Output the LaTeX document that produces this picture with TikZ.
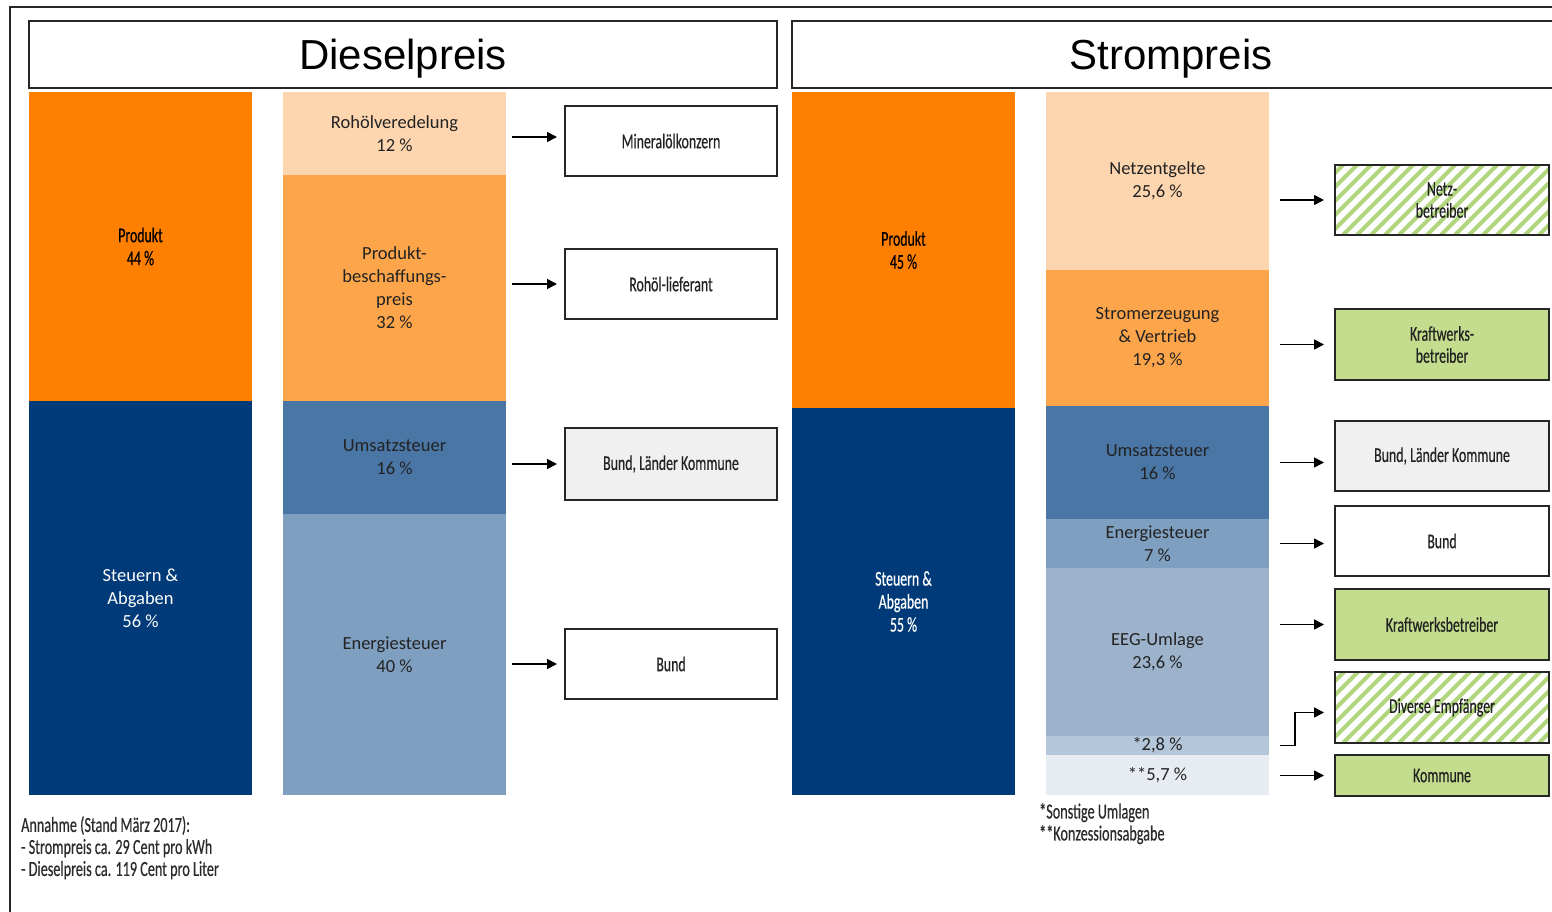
\documentclass[tikz,border=0pt]{standalone}
\usepackage{fontspec}
\setmainfont{Carlito}
\newfontfamily\titlefont{Liberation Sans}
\newfontfamily\narrowfont[FakeStretch=0.66,FakeBold=0.4]{Carlito}
\usetikzlibrary{arrows.meta}

\definecolor{prodorange}{HTML}{FF8000}
\definecolor{taxnavy}{HTML}{003A78}
\definecolor{peach}{HTML}{FDD6B0}
\definecolor{lightorange}{HTML}{FDA54B}
\definecolor{steelblue}{HTML}{4A76A6}
\definecolor{energyblue}{HTML}{7F9FC0}
\definecolor{eegblue}{HTML}{9DB3CC}
\definecolor{otherblue}{HTML}{B4C6DA}
\definecolor{concblue}{HTML}{E7ECF3}
\definecolor{boxgreen}{HTML}{C4DC8E}
\definecolor{hatchgreen}{HTML}{B2D67E}
\definecolor{boxgray}{HTML}{F0F0F0}
\definecolor{boxline}{HTML}{262626}
\definecolor{labeltext}{HTML}{222222}
\definecolor{notetext}{HTML}{2B2B2B}

\begin{document}
\begin{tikzpicture}[x=1pt,y=-1pt,
  bar/.style={inner sep=0pt, outer sep=0pt, align=center, text=labeltext,
    font=\fontsize{18.5}{23}\selectfont, minimum width=223pt},
  nbar/.style={bar, font=\narrowfont\fontsize{21}{23}\selectfont},
  target/.style={draw=boxline, line width=1.4pt, inner sep=0pt, outer sep=0pt,
    align=center, text=labeltext, font=\narrowfont\fontsize{21}{22}\selectfont},
  dtarget/.style={target, minimum width=212pt},
  starget/.style={target, minimum width=214pt},
  hatched/.style={fill=white, path picture={
      \foreach \k in {-90,-76,...,230}
        \draw[hatchgreen, line width=4pt]
          ([xshift=\k pt]path picture bounding box.south west) -- ++(100,-100);}},
  header/.style={draw=boxline, line width=1.4pt, inner sep=0pt, outer sep=0pt},
  title/.style={font=\titlefont\fontsize{42}{46}\selectfont, text=black},
  arr/.style={line width=1.5pt, draw=black, -{Triangle[length=10pt,width=10pt]}},
  note/.style={inner sep=0pt, align=left, text=notetext,
    font=\narrowfont\fontsize{21.5}{22}\selectfont}]

\clip (0,0) rectangle (1552,912);
\fill[white] (0,0) rectangle (1552,912);

% outer frame (runs past the right and bottom page edges)
\draw[draw=boxline, line width=1.6pt] (10,7) rectangle (1600,960);

% headers
\node[header, minimum width=748pt, minimum height=67pt] (hdiesel) at (403,54.5) {};
\node[title] at ([yshift=-4pt]hdiesel.center) {Dieselpreis};
\node[header, minimum width=790pt, minimum height=67pt] (hstrom) at (1187,54.5) {};
\node[title] at ([xshift=-16pt,yshift=-4pt]hstrom.center) {Strompreis};

% ---------------- Dieselpreis ----------------
\node[nbar, fill=prodorange, text=black, minimum height=309pt] (dprod) at (140.5,246.5)
  {Produkt\\44 \%};
\node[bar, fill=taxnavy, text=white, minimum height=394pt] (dsteu) at (140.5,598)
  {Steuern \&\\Abgaben\\56 \%};

\node[bar, fill=peach, minimum height=83pt] (droh) at (394.5,133.5)
  {Rohölveredelung\\12 \%};
\node[bar, fill=lightorange, minimum height=226pt] (dbesch) at (394.5,288)
  {Produkt-\\beschaffungs-\\preis\\32 \%};
\node[bar, fill=steelblue, minimum height=113pt] (dust) at (394.5,457.5)
  {Umsatzsteuer\\16 \%};
\node[bar, fill=energyblue, minimum height=281pt] (dene) at (394.5,654.5)
  {Energiesteuer\\40 \%};

\node[dtarget, fill=white, minimum height=70pt] (dmin) at (671,141) {Mineralölkonzern};
\node[dtarget, fill=white, minimum height=70pt] (dlief) at (671,284) {Rohöl-lieferant};
\node[dtarget, fill=boxgray, minimum height=72pt] (dbund1) at (671,464) {Bund, Länder Kommune};
\node[dtarget, fill=white, minimum height=70pt] (dbund2) at (671,664) {Bund};

\draw[arr] ([xshift=6pt,yshift=4pt]droh.east |- dmin.west) -- ([xshift=-8pt,yshift=4pt]dmin.west);
\draw[arr] ([xshift=6pt]dbesch.east |- dlief.west) -- ([xshift=-8pt]dlief.west);
\draw[arr] ([xshift=6pt]dust.east |- dbund1.west) -- ([xshift=-8pt]dbund1.west);
\draw[arr] ([xshift=6pt]dene.east |- dbund2.west) -- ([xshift=-8pt]dbund2.west);

% ---------------- Strompreis ----------------
\node[nbar, fill=prodorange, text=black, minimum height=316pt] (sprod) at (903.5,250)
  {Produkt\\45 \%};
\node[nbar, fill=taxnavy, text=white, minimum height=387pt] (ssteu) at (903.5,601.5)
  {Steuern \&\\Abgaben\\55 \%};

\node[bar, fill=peach, minimum height=178pt] (snetz) at (1157.5,181)
  {Netzentgelte\\25,6 \%};
\node[bar, fill=lightorange, minimum height=136pt] (serz) at (1157.5,338)
  {Stromerzeugung\\\& Vertrieb\\19,3 \%};
\node[bar, fill=steelblue, minimum height=113pt] (sust) at (1157.5,462.5)
  {Umsatzsteuer\\16 \%};
\node[bar, fill=energyblue, minimum height=49pt] (sene) at (1157.5,543.5)
  {Energiesteuer\\7 \%};
\node[bar, fill=eegblue, minimum height=168pt] (seeg) at (1157.5,652)
  {EEG-Umlage\\23,6 \%};
\node[bar, fill=otherblue, minimum height=19pt] (ssonst) at (1157.5,745.5)
  {*2,8 \%};
\node[bar, fill=concblue, minimum height=40pt] (skonz) at (1157.5,775)
  {**5,7 \%};

\node[starget, hatched, minimum height=70pt] (snetzb) at (1442,200) {Netz-\\betreiber};
\node[starget, fill=boxgreen, minimum height=71pt] (skraft1) at (1442,344.5) {Kraftwerks-\\betreiber};
\node[starget, fill=boxgray, minimum height=70pt] (sbund1) at (1442,456) {Bund, Länder Kommune};
\node[starget, fill=white, minimum height=70pt] (sbund2) at (1442,541) {Bund};
\node[starget, fill=boxgreen, minimum height=71pt] (skraft2) at (1442,624.5) {Kraftwerksbetreiber};
\node[starget, hatched, minimum height=71pt] (sdiv) at (1442,707.5) {Diverse Empfänger};
\node[starget, fill=boxgreen, minimum height=41pt] (skomm) at (1442,775.5) {Kommune};

\draw[arr] ([xshift=11pt]snetz.east |- snetzb.west) -- ([xshift=-11pt]snetzb.west);
\draw[arr] ([xshift=11pt]serz.east |- skraft1.west) -- ([xshift=-11pt]skraft1.west);
\draw[arr] ([xshift=11pt]sust.east) -- ([xshift=-11pt]sbund1.west |- sust.east);
\draw[arr] ([xshift=11pt]sene.east) -- ([xshift=-11pt]sbund2.west |- sene.east);
\draw[arr] ([xshift=11pt]seeg.east |- skraft2.west) -- ([xshift=-11pt]skraft2.west);
\draw[arr] ([xshift=11pt]ssonst.east) -- ++(15,0) |- ([xshift=-11pt,yshift=-5pt]sdiv.west);
\draw[arr] ([xshift=11pt]skonz.east |- skomm.west) -- ([xshift=-11pt]skomm.west);

% notes
\node[note, anchor=north west] (annahme) at (21,816)
  {Annahme (Stand März 2017):\\- Strompreis ca. 29 Cent pro kWh\\- Dieselpreis ca. 119 Cent pro Liter};
\node[note, anchor=north west] (legend) at (1039,803)
  {*Sonstige Umlagen\\**Konzessionsabgabe};
\end{tikzpicture}
\end{document}
